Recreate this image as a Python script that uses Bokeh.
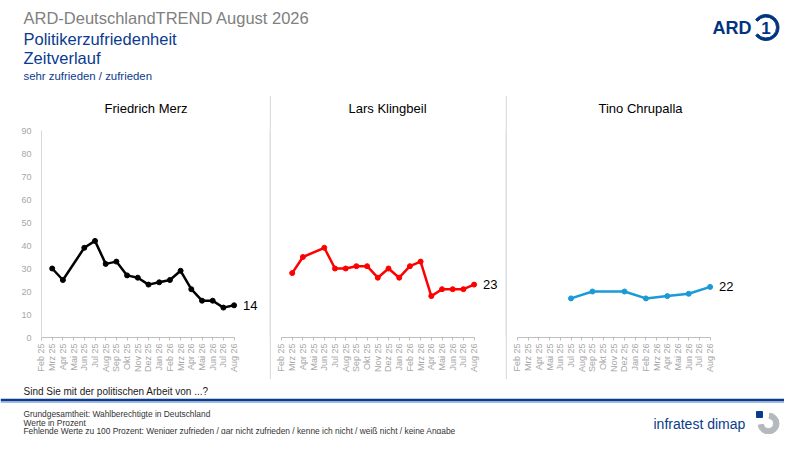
from bokeh.plotting import figure
from bokeh.layouts import column, row
from bokeh.models import Range1d, FixedTicker, Title, Span, ColumnDataSource
from bokeh.core.properties import value
from bokeh.embed import file_html
from bokeh.resources import INLINE

FONT = "Liberation Sans"
BLUE = "#0b3b8f"

# --- data -------------------------------------------------------------
months = ["Feb 25", "Mrz 25", "Apr 25", "Mai 25", "Jun 25", "Jul 25", "Aug 25",
          "Sep 25", "Okt 25", "Nov 25", "Dez 25", "Jan 26", "Feb 26", "Mrz 26",
          "Apr 26", "Mai 26", "Jun 26", "Jul 26", "Aug 26"]
y_ticks = [0, 10, 20, 30, 40, 50, 60, 70, 80, 90]

merz_months = ["Mrz 25", "Apr 25", "Jun 25", "Jul 25", "Aug 25", "Sep 25", "Okt 25",
               "Nov 25", "Dez 25", "Jan 26", "Feb 26", "Mrz 26", "Apr 26", "Mai 26",
               "Jun 26", "Jul 26", "Aug 26"]
merz_values = [30, 25, 39, 42, 32, 33, 27, 26, 23, 24, 25, 29, 21, 16, 16, 13, 14]

klingbeil_months = merz_months
klingbeil_values = [28, 35, 39, 30, 30, 31, 31, 26, 30, 26, 31, 33, 18, 21, 21, 21, 23]

chrupalla_months = ["Jul 25", "Sep 25", "Dez 25", "Feb 26", "Apr 26", "Jun 26", "Aug 26"]
chrupalla_values = [17, 20, 20, 17, 18, 19, 22]

panels = [
    ("Friedrich Merz", merz_months, merz_values, "#000000"),
    ("Lars Klingbeil", klingbeil_months, klingbeil_values, "#ff0000"),
    ("Tino Chrupalla", chrupalla_months, chrupalla_values, "#1a9ad6"),
]

footnotes = ["Grundgesamtheit: Wahlberechtigte in Deutschland",
             "Werte in Prozent",
             "Fehlende Werte zu 100 Prozent: Weniger zufrieden / gar nicht zufrieden / "
             "kenne ich nicht / weiß nicht / keine Angabe"]


def blank(width, height, xr, yr):
    p = figure(width=width, height=height, x_range=xr, y_range=yr,
               toolbar_location=None, output_backend="svg",
               x_axis_location=None, y_axis_location=None, min_border=0)
    p.grid.visible = False
    p.outline_line_color = None
    return p


# --- header -----------------------------------------------------------
header = blank(784, 95, Range1d(0, 784), Range1d(95, 0))
header.text(x=[23], y=[17], text=["ARD-DeutschlandTREND August 2026"],
            text_font=value(FONT), text_font_size="16.5px", text_color="#808080",
            text_baseline="middle")
header.text(x=[23, 23], y=[38, 57], text=["Politikerzufriedenheit", "Zeitverlauf"],
            text_font=value(FONT), text_font_size="16.5px", text_color=BLUE,
            text_baseline="middle")
header.text(x=[23], y=[75], text=["sehr zufrieden / zufrieden"],
            text_font=value(FONT), text_font_size="11.4px", text_color=BLUE,
            text_baseline="middle")
# ARD logo
header.text(x=[712], y=[27.5], text=["ARD"], text_font=value(FONT),
            text_font_size="18px", text_font_style="bold", text_color="#003480",
            text_baseline="middle")
header.annular_wedge(x=[765.5], y=[27], inner_radius=10.5, outer_radius=13,
                     start_angle=2.5, end_angle=3.8, direction="clock",
                     color="#003480")
header.text(x=[765.5], y=[27.5], text=["1"], text_font=value(FONT),
            text_font_size="17px", text_font_style="bold", text_color="#003480",
            text_align="center", text_baseline="middle")

# --- panels -----------------------------------------------------------
px_per_month = 10.7
# (figure width, left border, right border, title offset from frame left)
specs = [(269, 41, 5, 63), (234, 10, 5, 67), (277, 10, 5, 81)]
figs = []
for (name, mlist, vals, color), (w, left, right, toff) in zip(panels, specs):
    frame_w = w - left - right
    p = figure(width=w, height=284, x_range=Range1d(0, frame_w / px_per_month),
               y_range=Range1d(0, 90), toolbar_location=None, output_backend="svg",
               min_border_left=left, min_border_right=right, min_border_top=34,
               min_border_bottom=42, title=None,
               y_axis_location="left" if name == "Friedrich Merz" else None)
    p.grid.visible = False
    p.outline_line_color = None
    p.add_layout(Title(text=name, align="left", vertical_align="top", offset=toff,
                       padding=dict(left=0, right=0, top=0, bottom=8),
                       text_font=FONT, text_font_size="13px",
                       text_font_style="normal", text_color="#000000"), "above")

    ax = p.xaxis[0]
    ax.ticker = FixedTicker(ticks=list(range(len(months))))
    ax.major_label_overrides = {i: m for i, m in enumerate(months)}
    ax.major_label_orientation = 3.14159 / 2
    ax.major_label_text_font = FONT
    ax.major_label_text_font_size = "9px"
    ax.major_label_text_color = "#a6a6a6"
    ax.major_label_standoff = 3
    ax.major_tick_in = 0
    ax.major_tick_out = 3
    ax.minor_tick_line_color = None
    ax.major_tick_line_color = "#bfbfbf"
    ax.axis_line_color = "#bfbfbf"
    ax.bounds = (0, len(months) - 1)

    if name == "Friedrich Merz":
        ya = p.yaxis[0]
        ya.ticker = FixedTicker(ticks=y_ticks)
        ya.major_label_text_font = FONT
        ya.major_label_text_font_size = "9px"
        ya.major_label_text_color = "#a6a6a6"
        ya.major_tick_line_color = None
        ya.minor_tick_line_color = None
        ya.axis_line_color = "#d9d9d9"
        ya.major_label_standoff = 4

    src = ColumnDataSource(dict(x=[months.index(m) for m in mlist], y=vals))
    p.line("x", "y", source=src, line_color=color, line_width=2.5)
    p.scatter("x", "y", source=src, size=5, color=color)
    p.text(x=[months.index(mlist[-1])], y=[vals[-1]], text=[str(vals[-1])],
           x_offset=9, text_font=value(FONT), text_font_size="13px",
           text_color="#000000", text_baseline="middle")
    figs.append(p)


def separator():
    s = blank(2, 284, Range1d(0, 1), Range1d(0, 1))
    s.background_fill_color = "#dedede"
    s.border_fill_color = "#dedede"
    return s


# --- footer -----------------------------------------------------------
footer = blank(784, 55, Range1d(0, 784), Range1d(55, 0))
footer.text(x=[23], y=[12], text=["Sind Sie mit der politischen Arbeit von ...?"],
            text_font=value(FONT), text_font_size="10px", text_color="#1a1a1a",
            text_baseline="middle")
footer.add_layout(Span(location=20.5, dimension="width", line_color="#0a3c8c",
                       line_width=2.5))
footer.add_layout(Span(location=22.5, dimension="width", line_color="#8aa4d4",
                       line_width=1.5))
footer.text(x=[23] * len(footnotes), y=[34.5, 43, 51], text=footnotes,
            text_font=value(FONT), text_font_size="8.4px", text_color="#333333",
            text_baseline="middle")
# infratest dimap logo
footer.text(x=[653], y=[44], text=["infratest dimap"], text_font=value(FONT),
            text_font_size="14px", text_color="#0a3c8c", text_baseline="middle")
footer.annular_wedge(x=[768], y=[44], inner_radius=5, outer_radius=10.5,
                     start_angle=3.3, end_angle=1.45, direction="anticlock",
                     color="#b4b9be")
footer.rect(x=[759], y=[35], width=6, height=6, color="#0a3c8c")

layout = column(header, row(figs[0], separator(), figs[1], separator(), figs[2]),
                footer)

open("out.html", "w").write(file_html(layout, INLINE))
